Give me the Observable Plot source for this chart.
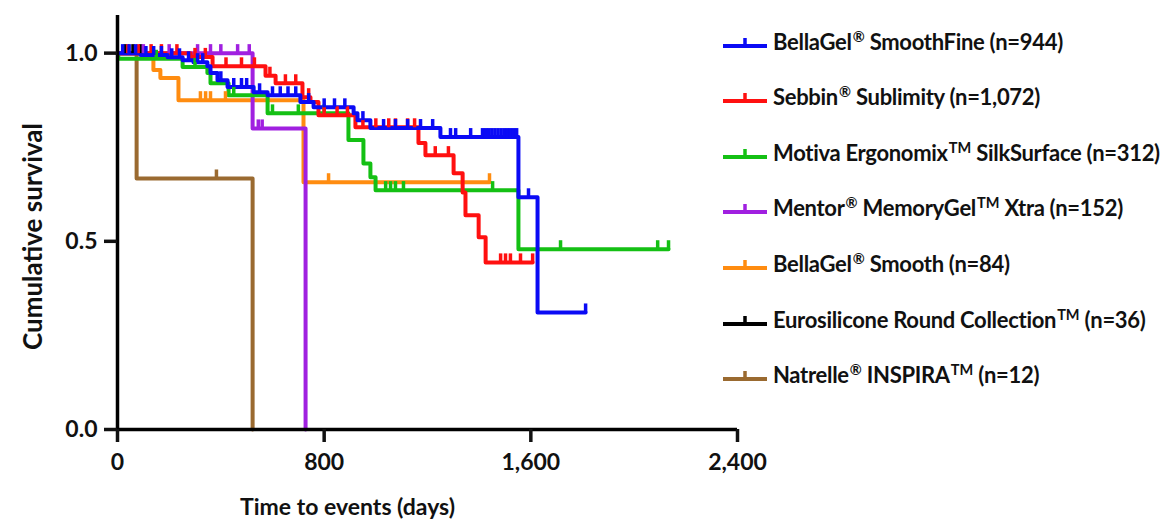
<!DOCTYPE html>
<html><head><meta charset="utf-8">
<script src="https://cdn.jsdelivr.net/npm/d3@7"></script>
<script src="https://cdn.jsdelivr.net/npm/@observablehq/plot@0.6"></script>
<style>
body{margin:0;background:#fff;}
#wrap{position:relative;width:1163px;height:520px;font-family:Lato,"Open Sans",sans-serif;font-weight:700;color:#111;}
.item{position:absolute;left:723px;white-space:nowrap;font-size:22px;line-height:24px;height:24px;letter-spacing:-0.3px;}
.item svg{position:absolute;left:0;top:4px;}
.item span{position:absolute;left:50px;top:0;}
.item sup{font-size:0.66em;line-height:0;vertical-align:0.55em;letter-spacing:0;margin-left:1px;}
</style></head>
<body><div id="wrap"></div>
<script>
// ---- data ----
const seriesKeys = ["SmoothFine","Sublimity","SilkSurface","MemoryGel","Smooth","Eurosilicone","Inspira"];
const legendLabels = [
  "BellaGel<sup>®</sup> SmoothFine (n=944)",
  "Sebbin<sup>®</sup> Sublimity (n=1,072)",
  "Motiva Ergonomix<sup>TM</sup> SilkSurface (n=312)",
  "Mentor<sup>®</sup> MemoryGel<sup>TM</sup> Xtra (n=152)",
  "BellaGel<sup>®</sup> Smooth (n=84)",
  "Eurosilicone Round Collection<sup>TM</sup> (n=36)",
  "Natrelle<sup>®</sup> INSPIRA<sup>TM</sup> (n=12)"
];
const seriesColors = ["#0a0af5","#ff1010","#14c014","#a020e0","#ff8c10","#000000","#9a6a30"];

// survival steps: [day, survival from that day on]
const smoothFineSteps = [[0,1],[89,0.995],[194,0.989],[252,0.981],[294,0.976],[348,0.965],[360,0.947],[387,0.928],[426,0.91],[527,0.896],[581,0.888],[708,0.87],[759,0.856],[914,0.84],[929,0.822],[979,0.801],[1250,0.777],[1552,0.617],[1626,0.311]];
const sublimitySteps = [[0,1],[283,0.99],[368,0.965],[573,0.94],[612,0.92],[716,0.883],[747,0.87],[778,0.835],[921,0.803],[1165,0.761],[1192,0.729],[1301,0.681],[1336,0.63],[1347,0.569],[1398,0.511],[1425,0.444]];
const silkSurfaceSteps = [[0,1],[3,0.985],[252,0.963],[348,0.947],[360,0.92],[430,0.888],[581,0.84],[894,0.769],[952,0.707],[979,0.67],[999,0.636],[1552,0.479]];
const memoryGelSteps = [[0,1],[523,0.8],[728,0]];
const smoothSteps = [[0,1],[139,0.955],[166,0.934],[236,0.875],[720,0.657]];
const eurosiliconeSteps = [[0,1]];
const inspiraSteps = [[0,1],[74,0.667],[523,0]];

// last follow-up day
const lastDays = [1812,1607,2133,728,1440,90,523];

// censored observations (days)
const smoothFineCensored = [20,45,70,110,140,170,210,240,275,310,330,400,450,480,500,550,600,630,660,690,740,800,840,880,950,1030,1076,1123,1173,1220,1289,1309,1367,1413,1425,1437,1449,1461,1473,1485,1497,1509,1521,1533,1545,1591,1812];
const sublimityCensored = [40,80,130,170,230,300,340,420,480,530,590,650,690,740,800,850,890,950,1000,1050,1076,1123,1150,1230,1281,1483,1502,1521,1560,1607];
const silkSurfaceCensored = [150,300,450,600,700,800,1038,1057,1076,1107,1452,1715,2091,2133];
const memoryGelCensored = [100,200,310,360,400,465,510,545,560];
const smoothCensored = [321,341,360,418,817,1440];
const eurosiliconeCensored = [30,60,90];
const inspiraCensored = [383];

const xTicks = [0,800,1600,2400];
const yTicks = [0,0.5,1.0];

// ---- build tables ----
const allSteps = [smoothFineSteps,sublimitySteps,silkSurfaceSteps,memoryGelSteps,smoothSteps,eurosiliconeSteps,inspiraSteps];
const allCensored = [smoothFineCensored,sublimityCensored,silkSurfaceCensored,memoryGelCensored,smoothCensored,eurosiliconeCensored,inspiraCensored];
const survAt = (steps, t) => { let s = steps[0][1]; for (const [d,v] of steps) if (d <= t) s = v; return s; };

const lineRows = [], censorRows = [];
// draw in reverse legend order so the first series lies on top
for (let i = seriesKeys.length - 1; i >= 0; i--) {
  const steps = allSteps[i];
  for (const [t,s] of steps) lineRows.push({series: seriesKeys[i], t, s});
  lineRows.push({series: seriesKeys[i], t: lastDays[i], s: steps[steps.length-1][1]});
  for (const t of allCensored[i]) censorRows.push({series: seriesKeys[i], t, s: survAt(steps, t)});
}

const censorSymbol = { draw(ctx) { ctx.moveTo(0, 0); ctx.lineTo(0, -9); } };
const colorScale = {domain: seriesKeys, range: seriesColors};

const chart = Plot.plot({
  width: 1163, height: 520,
  marginLeft: 117, marginRight: 426, marginTop: 15, marginBottom: 91,
  x: {domain: [0,2400]},
  y: {domain: [0,1.1]},
  color: colorScale,
  style: {fontFamily: "Lato, 'Open Sans', sans-serif", fontWeight: 700, fontSize: "23px", color: "#111", background: "#fff"},
  marks: [
    Plot.line(lineRows, {x: "t", y: "s", z: "series", stroke: "series", curve: "step-after", strokeWidth: 4}),
    Plot.dot(censorRows, {x: "t", y: "s", stroke: "series", fill: "none", symbol: censorSymbol, strokeWidth: 3.5, r: 4}),
    Plot.ruleX([0], {stroke: "#000", strokeWidth: 3.5}),
    Plot.ruleY([0], {stroke: "#000", strokeWidth: 3.5}),
    Plot.axisX({ticks: xTicks, tickFormat: d3.format(","), tickSize: 13, tickPadding: 11, strokeWidth: 3.5, label: null, fill: "#111"}),
    Plot.axisY({ticks: yTicks, tickFormat: d3.format(".1f"), tickSize: 13, tickPadding: 7, strokeWidth: 3.5, label: null, fill: "#111"}),
    Plot.text(["Time to events (days)"], {frameAnchor: "bottom", textAnchor: "middle", dx: -80, dy: 85, fontSize: 23, fill: "#111"}),
    Plot.text(["Cumulative survival"], {frameAnchor: "left", textAnchor: "middle", dx: -84, dy: 14, rotate: -90, fontSize: 26, fill: "#111"})
  ]
});
const wrap = document.getElementById("wrap");
wrap.appendChild(chart);

// legend
const rowTop = [30, 85, 141, 196, 252, 308, 363];
seriesKeys.forEach((k, i) => {
  const d = document.createElement("div");
  d.className = "item";
  d.style.top = rowTop[i] + "px";
  d.innerHTML = `<svg width="46" height="16"><line x1="0" x2="44" y1="12" y2="12" stroke="${seriesColors[i]}" stroke-width="4"/><line x1="22" x2="22" y1="12" y2="4" stroke="${seriesColors[i]}" stroke-width="3.5"/></svg><span>${legendLabels[i]}</span>`;
  wrap.appendChild(d);
});
</script>
</body></html>
